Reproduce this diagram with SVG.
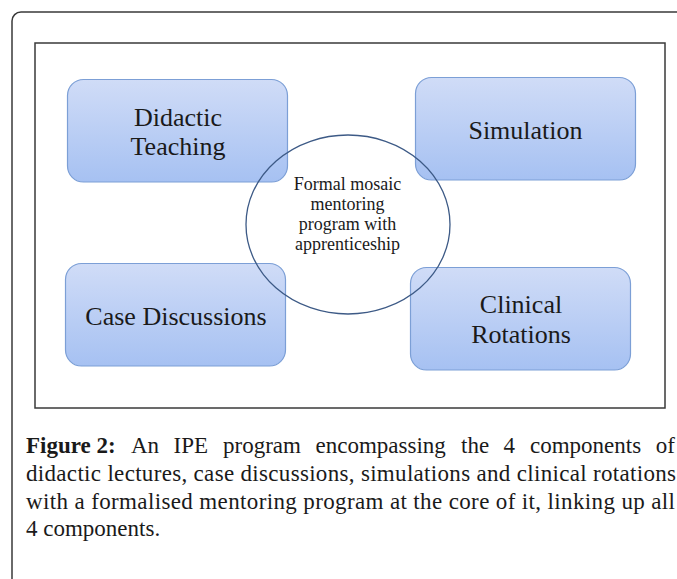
<svg xmlns="http://www.w3.org/2000/svg" width="677" height="579" viewBox="0 0 677 579">
<defs>
<linearGradient id="boxGrad" x1="0" y1="0" x2="0" y2="1">
<stop offset="0" stop-color="#d0dcf7"/>
<stop offset="1" stop-color="#a6c1f2"/>
</linearGradient>
<style>
.frame{fill:none;stroke:#3a3a3a;stroke-width:1.5}
.box{fill:url(#boxGrad);stroke:#7c9fd6;stroke-width:1.2}
.hub{fill:none;stroke:#3d5a86;stroke-width:1.3}
.lbl{font-family:"Liberation Serif","Times New Roman",serif;font-size:26px;fill:#1a1a1a;text-anchor:middle}
.hubtxt{font-family:"Liberation Serif","Times New Roman",serif;font-size:18px;fill:#1a1a1a;text-anchor:middle}
.cap{font-family:"Liberation Serif","Times New Roman",serif;font-size:23px;fill:#1a1a1a}
.capb{font-weight:bold}
</style>
</defs>
<rect width="677" height="579" fill="#ffffff"/>
<rect class="frame" x="12" y="12" width="720" height="640" rx="9"/>
<rect class="frame" x="35" y="43" width="630" height="365"/>

<g id="didactic-teaching">
<rect class="box" x="67.5" y="79.5" width="220" height="102.5" rx="16"/>
<text class="lbl" x="178" y="126">Didactic</text>
<text class="lbl" x="178" y="155">Teaching</text>
</g>
<g id="simulation">
<rect class="box" x="415.5" y="77.5" width="220" height="102.5" rx="16"/>
<text class="lbl" x="525.5" y="139">Simulation</text>
</g>
<g id="case-discussions">
<rect class="box" x="65.5" y="263.5" width="220" height="102.5" rx="16"/>
<text class="lbl" x="176" y="325">Case Discussions</text>
</g>
<g id="clinical-rotations">
<rect class="box" x="410.5" y="267.5" width="220" height="102.5" rx="16"/>
<text class="lbl" x="521" y="313">Clinical</text>
<text class="lbl" x="521" y="343">Rotations</text>
</g>
<g id="mentoring-hub">
<ellipse class="hub" cx="348" cy="224.5" rx="102" ry="89.5"/>
<text class="hubtxt" x="347.5" y="190">Formal mosaic</text>
<text class="hubtxt" x="347.5" y="210">mentoring</text>
<text class="hubtxt" x="347.5" y="230">program with</text>
<text class="hubtxt" x="347.5" y="250">apprenticeship</text>
</g>
<g id="connectors"/>

<g id="caption">
<text class="cap capb" x="26" y="453">Figure 2:</text>
<text class="cap" x="131" y="453">An</text>
<text class="cap" x="173.5" y="453">IPE</text>
<text class="cap" x="223" y="453">program</text>
<text class="cap" x="315.5" y="453">encompassing</text>
<text class="cap" x="461" y="453">the</text>
<text class="cap" x="503.5" y="453">4</text>
<text class="cap" x="530" y="453">components</text>
<text class="cap" x="675" y="453" text-anchor="end">of</text>
<text class="cap" x="26" y="481" textLength="650" lengthAdjust="spacing">didactic lectures, case discussions, simulations and clinical rotations</text>
<text class="cap" x="26" y="508.5" textLength="649" lengthAdjust="spacing">with a formalised mentoring program at the core of it, linking up all</text>
<text class="cap" x="26" y="536">4 components.</text>
</g>
</svg>
